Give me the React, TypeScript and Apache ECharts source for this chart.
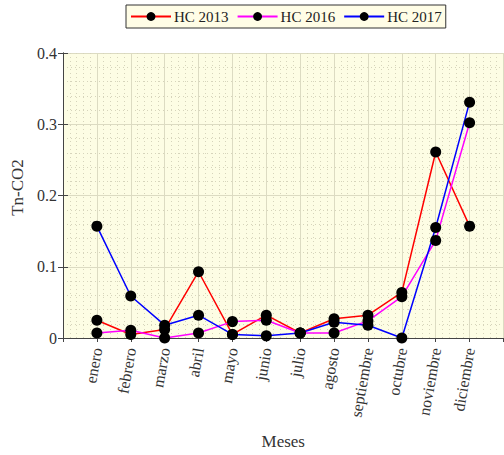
import React, { useEffect, useRef } from "react";
import * as echarts from "echarts";

// Monthly Tn-CO2 values per year
const months = [
  "enero", "febrero", "marzo", "abril", "mayo", "junio",
  "julio", "agosto", "septiembre", "octubre", "noviembre", "diciembre",
];
const hc2013 = [0.025, 0.005, 0.012, 0.093, 0.005, 0.032, 0.007, 0.027, 0.032, 0.064, 0.261, 0.157];
const hc2016 = [0.007, 0.011, 0.0, 0.007, 0.023, 0.025, 0.007, 0.007, 0.024, 0.058, 0.137, 0.302];
const hc2017 = [0.157, 0.059, 0.018, 0.032, 0.005, 0.003, 0.007, 0.022, 0.018, 0.0, 0.155, 0.331];
const yTicks = [0, 0.1, 0.2, 0.3, 0.4];

const FONT = "'Liberation Serif', 'Times New Roman', serif";

const toPoints = (vals: number[]) => vals.map((v, i) => [i + 1, v]);

export default function App() {
  const ref = useRef<HTMLDivElement>(null);

  useEffect(() => {
    if (!ref.current) return;
    const chart = echarts.init(ref.current, null, { renderer: "svg" });

    const major = { show: true, lineStyle: { color: "#dcdbc2", width: 1 } };
    const minor = { show: true, lineStyle: { color: "#d6d4bb", width: 1, type: [1, 3] as any } };

    const mkSeries = (name: string, vals: number[], color: string) => ({
      name,
      type: "line",
      data: toPoints(vals),
      symbol: "circle",
      symbolSize: 11,
      clip: false,
      itemStyle: { color: "#000" },
      lineStyle: { color, width: 1.5 },
    });

    chart.setOption({
      animation: false,
      textStyle: { fontFamily: FONT },
      legend: {
        top: 5,
        left: 126,
        backgroundColor: "#fffde6",
        borderColor: "#333",
        borderWidth: 1,
        padding: [4, 4, 4, 4],
        itemWidth: 40,
        itemHeight: 11,
        itemGap: 8,
        textStyle: { fontFamily: FONT, fontSize: 15, color: "#222", padding: [0, 0, 0, -2] },
      },
      grid: { left: 63, top: 53, right: -3, bottom: 115, show: true, backgroundColor: "#fdfde4", borderWidth: 0 },
      xAxis: [
        {
          type: "value",
          min: 0,
          max: 13,
          interval: 1,
          name: "Meses",
          nameLocation: "middle",
          nameGap: 95,
          nameTextStyle: { fontFamily: FONT, fontSize: 17, color: "#333" },
          axisLine: { show: true, lineStyle: { color: "#444", width: 1 } },
          axisTick: { show: false },
          axisLabel: {
            rotate: 80,
            fontFamily: FONT,
            fontSize: 16,
            color: "#333",
            margin: 10,
            formatter: (v: number) => (v >= 1 && v <= 12 ? months[v - 1] : ""),
          },
          splitLine: major,
          minorTick: { show: false, splitNumber: 5 },
          minorSplitLine: minor,
        },
        {
          type: "value",
          position: "top",
          min: 0,
          max: 13,
          interval: 1,
          axisLine: { show: true, lineStyle: { color: "#444", width: 1 } },
          axisTick: { show: true, inside: true, length: 4, lineStyle: { color: "#444" } },
          axisLabel: { show: false },
          splitLine: { show: false },
        },
      ],
      yAxis: [
        {
          type: "value",
          min: 0,
          max: 0.4,
          interval: 0.1,
          name: "Tn-CO2",
          nameLocation: "middle",
          nameGap: 28,
          nameTextStyle: { fontFamily: FONT, fontSize: 17, color: "#333", padding: [0, 0, 0, 16] },
          axisLine: { show: true, lineStyle: { color: "#444", width: 1 } },
          axisTick: { show: true, inside: true, length: 5, lineStyle: { color: "#444" } },
          axisLabel: {
            fontFamily: FONT,
            fontSize: 16,
            color: "#333",
            margin: 6,
            formatter: (v: number) => {
              const t = yTicks.find((x) => Math.abs(x - v) < 1e-9);
              return t === undefined ? "" : String(t);
            },
          },
          splitLine: major,
          minorTick: { show: false, splitNumber: 5 },
          minorSplitLine: minor,
        },
        {
          type: "value",
          position: "right",
          min: 0,
          max: 0.4,
          interval: 0.1,
          axisLine: { show: true, lineStyle: { color: "#444", width: 1 } },
          axisTick: { show: true, inside: true, length: 5, lineStyle: { color: "#444" } },
          axisLabel: { show: false },
          splitLine: { show: false },
        },
      ],
      series: [
        mkSeries("HC 2013", hc2013, "#ff0000"),
        mkSeries("HC 2016", hc2016, "#ff00ff"),
        mkSeries("HC 2017", hc2017, "#0000ff"),
      ],
    });

    return () => chart.dispose();
  }, []);

  return <div ref={ref} style={{ width: 504, height: 455, position: "absolute", left: 0, top: 0 }} />;
}
